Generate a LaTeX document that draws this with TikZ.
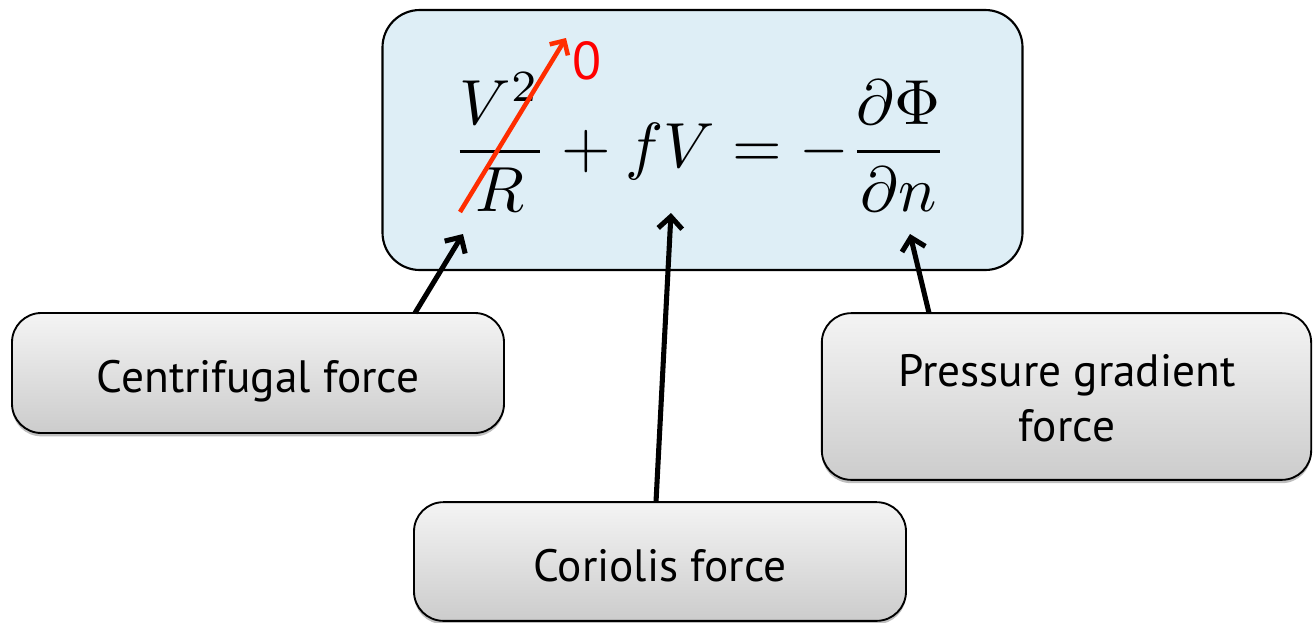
\documentclass[tikz,border=0pt]{standalone}
\usepackage{fontspec}
\usepackage{graphicx}
\newfontfamily\labelfont{PT Sans}
\usetikzlibrary{arrows.meta,shadows}
\definecolor{eqblue}{RGB}{222,238,246}
\definecolor{arrred}{RGB}{255,45,0}
\definecolor{boxtop}{RGB}{244,244,244}
\definecolor{boxbot}{RGB}{204,204,204}
\begin{document}
\begin{tikzpicture}[x=0.75pt,y=-0.75pt,
  eqbox/.style={draw=black, line width=1.6pt, rounded corners=28pt, fill=eqblue,
    minimum width=480pt, minimum height=195pt, inner sep=0pt},
  forcebox/.style={draw=black, line width=1.4pt, rounded corners=22pt,
    top color=boxtop, bottom color=boxbot, inner sep=0pt,
    drop shadow={shadow xshift=0pt, shadow yshift=-2.5pt, opacity=0.25, fill=black}},
  forcetext/.style={font=\labelfont\fontsize{34}{41}\selectfont, align=center, inner sep=0pt},
  pointer/.style={draw=black, line width=3.8pt, -{Straight Barb[length=9pt,width=18pt]}},
  cancel/.style={draw=arrred, line width=3.4pt, -{Straight Barb[length=8pt,width=16pt]}}]
\useasboundingbox (0,0) rectangle (1313,622);

% main equation box
\node[eqbox] (eqb) at (702.5,140) {};
\node[inner sep=0pt] (eq) at (700,142)
  {\resizebox{372pt}{!}{$\displaystyle \frac{V^2}{R}+fV=-\frac{\partial\Phi}{\partial n}$}};

% force boxes
\node[forcebox, minimum width=369pt, minimum height=90pt] (cen) at (258,373) {};
\node[forcetext] (centxt) at (258,381) {Centrifugal force};
\node[forcebox, minimum width=369pt, minimum height=89pt] (cor) at (660,561.5) {};
\node[forcetext] (cortxt) at (660,566) {Coriolis force};
\node[forcebox, minimum width=367pt, minimum height=125pt] (pre) at (1066.5,396.5) {};
\node[forcetext] (pretxt) at (1067,398) {Pressure gradient\\force};

% connector end points
\coordinate (cenTop) at (415,313);
\coordinate (cenTip) at (463,234);
\coordinate (corTop) at (656,502);
\coordinate (corTip) at (671,213);
\coordinate (preTop) at (929,313);
\coordinate (preTip) at (910,234);
\coordinate (redTail) at (460,212);
\coordinate (redTip) at (566,38);

\draw[pointer] (cenTop) -- (cenTip);
\draw[pointer] (corTop) -- (corTip);
\draw[pointer] (preTop) -- (preTip);

% cancellation arrow
\draw[cancel] (redTail) -- (redTip);
\node[font=\labelfont\fontsize{40}{46}\selectfont, text=red, inner sep=0pt] (zero) at (587.5,60.5) {0};
\end{tikzpicture}
\end{document}
